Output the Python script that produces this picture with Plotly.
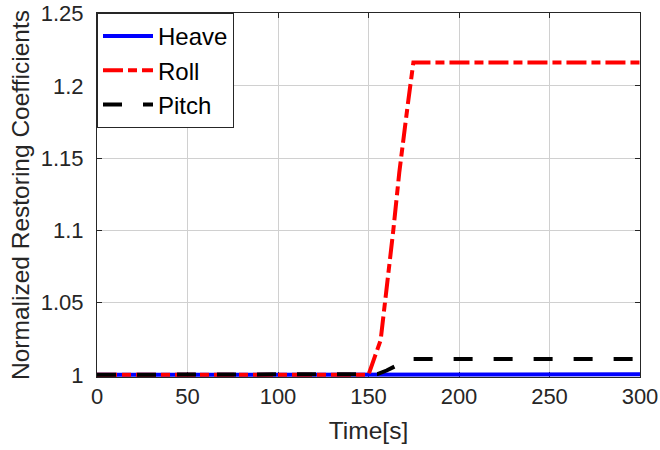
import plotly.graph_objects as go

# Data
t_heave = [0, 150, 160, 175, 300]
heave = [1.0, 1.0, 1.0002, 1.0004, 1.0004]

t_roll = [0, 150, 153.6, 156.7, 159.1, 161.5, 163.7, 167.0, 169.2, 172.0, 174.8, 300]
roll = [1.0, 1.0, 1.013, 1.024, 1.050, 1.075, 1.100, 1.140, 1.164, 1.190, 1.2163, 1.2163]

t_pitch = [0, 150, 155, 160, 163, 168, 173, 300]
pitch = [1.0, 1.0, 1.0005, 1.003, 1.0048, 1.0085, 1.011, 1.011]

x_ticks = [0, 50, 100, 150, 200, 250, 300]
y_ticks = [1.0, 1.05, 1.1, 1.15, 1.2, 1.25]
y_tick_text = ["1", "1.05", "1.1", "1.15", "1.2", "1.25"]

FONT = "Liberation Sans, Arial, sans-serif"
AX = "#262626"

fig = go.Figure()
fig.add_trace(go.Scatter(x=t_heave, y=heave, mode="lines", name="Heave",
                         line=dict(color="#0000ff", width=4)))
fig.add_trace(go.Scatter(x=t_roll, y=roll, mode="lines", name="Roll",
                         line=dict(color="#ff0000", width=4, dash="20px,5px,9px,5px")))
fig.add_trace(go.Scatter(x=t_pitch, y=pitch, mode="lines", name="Pitch",
                         line=dict(color="#000000", width=4, dash="19px,21px")))

fig.update_layout(
    width=660, height=450,
    margin=dict(l=97, r=20, t=13, b=73, autoexpand=False),
    paper_bgcolor="white", plot_bgcolor="white",
    font=dict(family=FONT, color=AX, size=21),
    showlegend=True,
    legend=dict(x=0, y=1, xanchor="left", yanchor="top",
                bgcolor="white", bordercolor=AX, borderwidth=1,
                font=dict(size=24, color="black", family=FONT),
                itemwidth=50, traceorder="normal"),
)
fig.update_xaxes(range=[0, 300], tickvals=x_ticks, showgrid=True, gridcolor="#d0d0d0",
                 gridwidth=1, zeroline=False, showline=True, linecolor=AX, linewidth=1,
                 mirror="ticks", ticks="inside", ticklen=5, tickcolor=AX,
                 tickfont=dict(size=22, color=AX), layer="below traces", automargin=False,
                 title=dict(text="Time[s]", font=dict(size=24.5, color=AX), standoff=13))
fig.update_yaxes(range=[0.9985, 1.2505], tickvals=y_ticks, ticktext=y_tick_text,
                 showgrid=True, gridcolor="#d0d0d0", gridwidth=1, zeroline=False,
                 showline=True, linecolor=AX, linewidth=1, mirror="ticks",
                 ticks="inside", ticklen=5, tickcolor=AX, layer="below traces",
                 tickfont=dict(size=22, color=AX), ticklabelstandoff=8, automargin=False,
                 title=dict(text="Normalized Restoring Coefficients",
                            font=dict(size=24.5, color=AX), standoff=4))

fig.write_html("out.html")
